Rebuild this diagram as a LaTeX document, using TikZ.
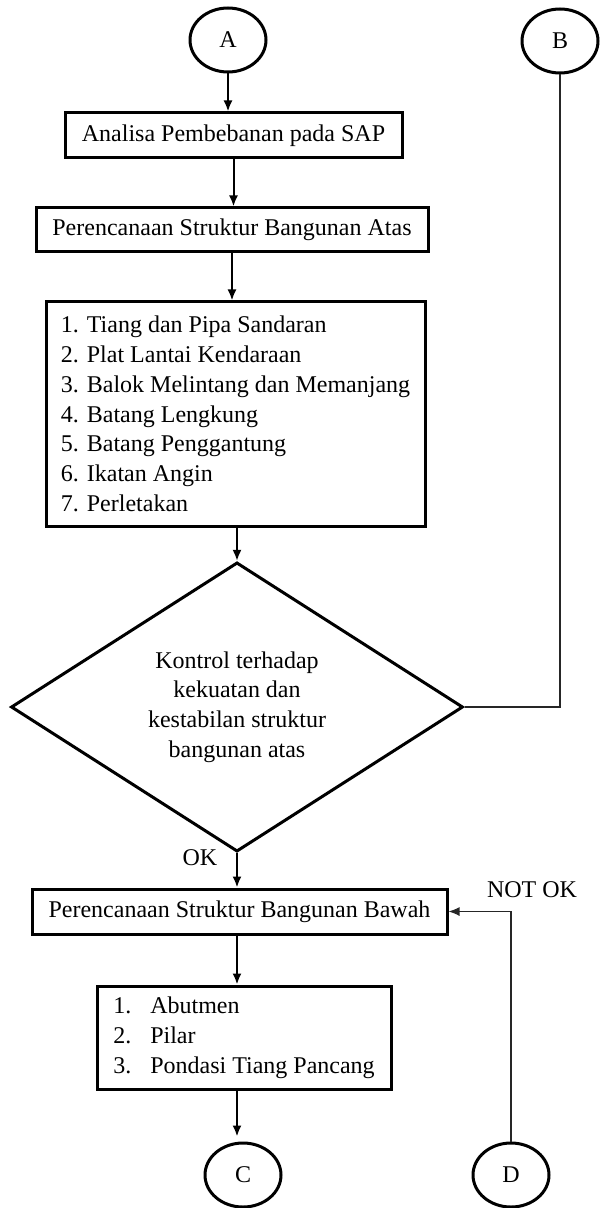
\documentclass[tikz,border=0pt]{standalone}
\usepackage{fontspec}
\setmainfont{Liberation Serif}
\usetikzlibrary{shapes.geometric,arrows.meta,calc}
\begin{document}
\begin{tikzpicture}[x=0.5pt,y=-0.5pt,
  every node/.style={font=\fontsize{12}{14.9}\selectfont},
  proc/.style={draw, line width=1.5pt, inner sep=0pt, minimum height=22.5pt, align=left},
  conn/.style={draw, ellipse, line width=1.5pt, minimum width=38pt, minimum height=32pt, inner sep=0pt},
  decision/.style={draw, diamond, line width=1.5pt, minimum width=226pt, minimum height=134pt, inner sep=0pt, align=center},
  arr/.style={line width=1pt, -{Latex[length=5.5pt,width=4.5pt]}},
  thinline/.style={line width=0.6pt, black!85},
  lbl/.style={inner sep=0pt}]
\useasboundingbox (0,0) rectangle (600,1208);
% connectors (circles)
\node[conn] (A) at (228,40) {A};
\node[conn] (B) at (560,41) {B};
\node[conn] (C) at (243,1175) {C};
\node[conn] (D) at (511,1175) {D};
% process boxes
\node[proc, minimum width=168.5pt] (b1) at (233.5,135.5) {Analisa Pembebanan pada SAP};
\node[proc, minimum width=196pt, minimum height=22pt] (b2) at (232,230) {Perencanaan Struktur Bangunan Atas};
\node[proc, minimum width=189.5pt, minimum height=112pt] (b3) at (235.5,414) {1. Tiang dan Pipa Sandaran\\2. Plat Lantai Kendaraan\\3. Balok Melintang dan Memanjang\\4. Batang Lengkung\\5. Batang Penggantung\\6. Ikatan Angin\\7. Perletakan};
\node[decision] (dia) at (237,707) {Kontrol terhadap\\kekuatan dan\\kestabilan struktur\\bangunan atas};
\node[proc, minimum width=207.5pt] (b4) at (239.5,911.5) {Perencanaan Struktur Bangunan Bawah};
\node[proc, minimum width=147pt, minimum height=51.5pt] (b5) at (244,1037.5) {\makebox[18.5pt][l]{1.}Abutmen\\\makebox[18.5pt][l]{2.}Pilar\\\makebox[18.5pt][l]{3.}Pondasi Tiang Pancang};
% labels
\node[lbl] (ok) at (200,858) {OK};
\node[lbl] (nok) at (532,890) {NOT OK};
% arrows
\draw[arr] (A.south) -- (A.south |- b1.north);
\draw[arr] (b1.south) -- (b1.south |- b2.north);
\draw[arr] (b2.south) -- (b2.south |- b3.north);
\draw[arr] (dia.north |- b3.south) -- (dia.north);
\draw[arr] (dia.south) -- (dia.south |- b4.north);
\draw[arr] (dia.south |- b4.south) -- (dia.south |- b5.north);
\draw[arr, shorten >=2.5pt] (dia.south |- b5.south) -- (dia.south |- C.north);
\draw[thinline] (dia.east) -- (B.south |- dia.east) -- (B.south);
\draw[thinline, arr, line width=0.6pt] (D.north) |- (b4.east);
\end{tikzpicture}
\end{document}
